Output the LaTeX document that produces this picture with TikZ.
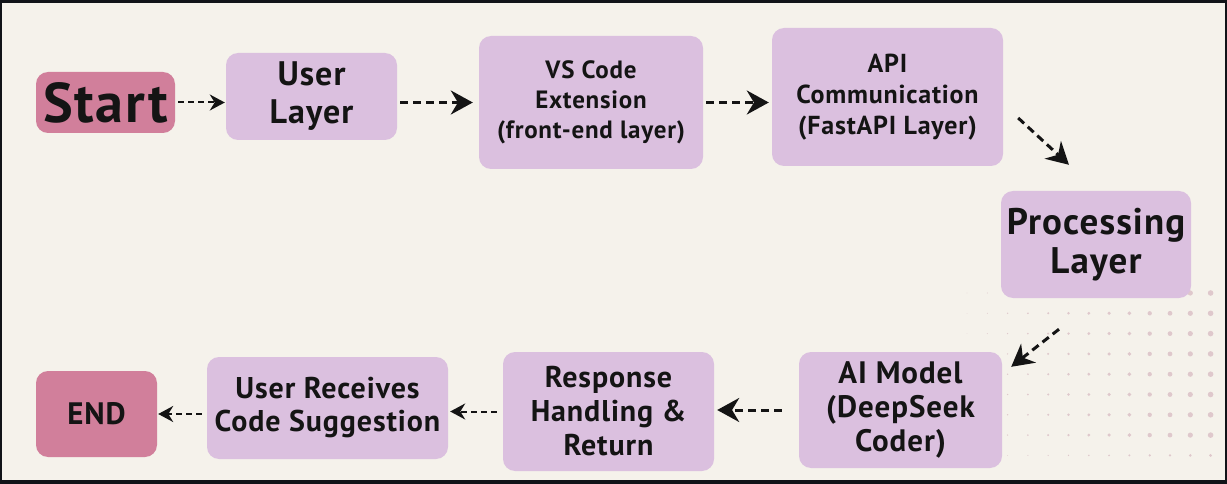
\documentclass[tikz,border=0pt]{standalone}
\usepackage{fontspec}
\setmainfont{PT Sans}[LetterSpace=3]
\usetikzlibrary{arrows.meta}
\definecolor{bg}{HTML}{F5F2EB}
\definecolor{lav}{HTML}{DBC0DF}
\definecolor{pinkbox}{HTML}{D17F9B}
\definecolor{dotc}{HTML}{DFC8CC}
\definecolor{framec}{HTML}{111318}
\definecolor{ink}{HTML}{141414}
\tikzset{
  box/.style={draw=none, fill=lav, rounded corners=12pt, inner sep=0pt, align=center, text=ink},
  endbox/.style={box, fill=pinkbox},
  bigarr/.style={draw=ink, line width=3pt, dash pattern=on 8pt off 5pt, -{Stealth[length=22pt,width=24pt]}},
  smallarr/.style={draw=ink, line width=2pt, dash pattern=on 6pt off 4pt, -{Stealth[length=15pt,width=16pt]}},
}
\begin{document}
\begin{tikzpicture}[x=1pt,y=-1pt]
\useasboundingbox (0,0) rectangle (1227,484);
\fill[framec] (0,0) rectangle (1227,484);
\fill[bg] (2,3) rectangle (1225,480);
% dotted texture
\foreach \i in {0,...,12}{
  \foreach \j in {0,...,8}{
    \pgfmathsetmacro{\rr}{(0.3+2.5*\i/12)*(\j==8 ? 0.55 : 1)}
    \fill[dotc] ({967+20.3*\i},{293+20.3*\j}) circle[radius=\rr pt];
  }
}
% nodes
\node[endbox, minimum width=139pt, minimum height=61pt, font=\fontsize{56}{60}\selectfont\bfseries] (start) at (105.5,102.5) {Start};
\node[box, minimum width=171pt, minimum height=87pt, font=\fontsize{34}{38}\selectfont\bfseries] (user) at (311.5,96.5) {User\\Layer};
\node[box, minimum width=224pt, minimum height=133pt, font=\fontsize{25}{30}\selectfont\bfseries] (vs) at (591,102.5) {VS Code\\Extension\\(front-end layer)};
\node[box, minimum width=231pt, minimum height=138pt, font=\fontsize{26}{31}\selectfont\bfseries] (api) at (887.5,97) {API\\Communication\\(FastAPI Layer)};
\node[box, minimum width=190pt, minimum height=107pt, font=\fontsize{37}{39}\selectfont\bfseries] (proc) at (1096,244.5) {Processing\\Layer};
\node[box, minimum width=203pt, minimum height=116pt, font=\fontsize{31}{34}\selectfont\bfseries] (ai) at (900.5,410) {AI Model\\(DeepSeek\\Coder)};
\node[box, minimum width=211pt, minimum height=119pt, font=\fontsize{30}{34}\selectfont\bfseries] (resp) at (608.5,411.5) {Response\\Handling \&\\Return};
\node[box, minimum width=241pt, minimum height=102pt, font=\fontsize{30}{33}\selectfont\bfseries] (ur) at (327.5,408) {User Receives\\Code Suggestion};
\node[endbox, minimum width=121pt, minimum height=86pt, font=\fontsize{31}{34}\selectfont\bfseries] (end) at (96.5,414) {END};
% connectors
\draw[smallarr, shorten <=3pt, shorten >=1pt] (start.east) -- (start.east -| user.west);
\draw[bigarr, shorten <=3pt, shorten >=6pt] (user.east |- vs.west) -- (vs.west);
\draw[bigarr, shorten <=3pt, shorten >=3pt] (vs.east) -- (vs.east -| api.west);
\draw[bigarr] ([shift={(15,21)}]api.east) -- ([shift={(-27,-26)}]proc.north);
\draw[bigarr] ([shift={(-37,31)}]proc.south) -- ([shift={(9,15)}]ai.north east);
\draw[bigarr, shorten <=17pt, shorten >=3pt] (ai.west) -- (ai.west -| resp.east);
\draw[smallarr, shorten <=6pt, shorten >=2pt] (resp.west) -- (resp.west -| ur.east);
\draw[smallarr, shorten <=5pt, shorten >=1pt] (ur.west |- end.east) -- (end.east);
\end{tikzpicture}
\end{document}
